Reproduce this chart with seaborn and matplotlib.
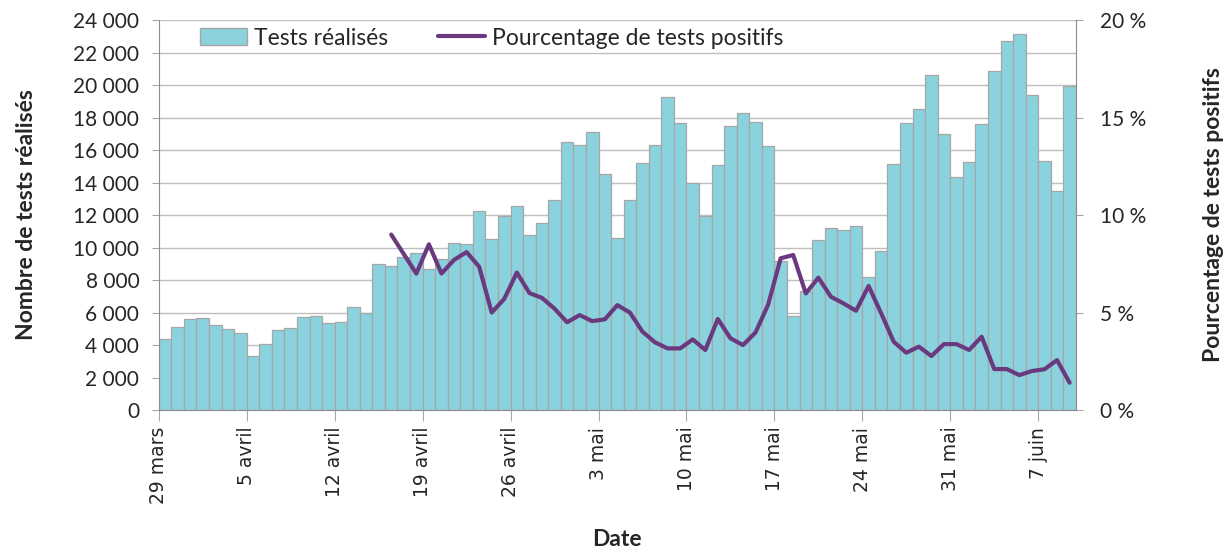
import pandas as pd
import numpy as np
import seaborn as sns
import matplotlib.pyplot as plt
from matplotlib.patches import Patch
from matplotlib.lines import Line2D
from matplotlib.ticker import FuncFormatter

# daily values, 29 mars -> 9 juin
dates = pd.date_range("2020-03-29", "2020-06-09", freq="D")

tests = [4400, 5100, 5600, 5650, 5250, 5000, 4750, 3350, 4050, 4950,
         5050, 5750, 5800, 5350, 5400, 6350, 5950, 9000, 8850, 9400,
         9650, 8700, 9300, 10300, 10200, 12250, 10500, 11950, 12550, 10800,
         11500, 12900, 16500, 16300, 17100, 14550, 10600, 12950, 15200, 16300,
         19250, 17650, 13950, 11950, 15100, 17450, 18300, 17750, 16250, 9150,
         5800, 7300, 10450, 11200, 11050, 11350, 8200, 9800, 15150, 17650,
         18550, 20600, 17000, 14350, 15250, 17600, 20850, 22700, 23150, 19400,
         15350, 13500, 19950]

# percentage of positive tests, starts on 16 avril
pct = [np.nan] * 18 + [
    9.0, 8.0, 7.0, 8.5, 7.0, 7.7, 8.1, 7.35, 5.0, 5.7,
    7.05, 6.0, 5.75, 5.2, 4.5, 4.87, 4.56, 4.65, 5.38, 5.0,
    4.02, 3.47, 3.16, 3.16, 3.62, 3.08, 4.67, 3.68, 3.33, 3.98,
    5.4, 7.78, 7.95, 5.98, 6.79, 5.81, 5.47, 5.09, 6.36, 4.96,
    3.5, 2.94, 3.25, 2.77, 3.38, 3.38, 3.08, 3.76, 2.1, 2.1,
    1.79, 2.0, 2.09, 2.56, 1.4]

mois = {3: "mars", 4: "avril", 5: "mai", 6: "juin"}
labels = [f"{d.day} {mois[d.month]}" for d in dates]

df = pd.DataFrame({"jour": labels, "tests": tests, "pct": pct,
                   "pos": np.arange(len(labels))})

bar_color = "#8AD3DE"
line_color = "#6B3A7E"
grey = "#A6A6A6"

sns.set_style("white")
plt.rcParams["font.family"] = ["Lato", "DejaVu Sans"]

fig = plt.figure(figsize=(12.31, 5.5), dpi=100)
ax = fig.add_axes([0.129, 0.2545, 0.745, 0.709])

sns.barplot(data=df, x="jour", y="tests", order=labels, color=bar_color,
            saturation=1, width=1.0, edgecolor=grey, linewidth=0.9, ax=ax,
            zorder=2)

ax.set_ylim(0, 24000)
ax.set_yticks(np.arange(0, 24001, 2000))
ax.yaxis.set_major_formatter(FuncFormatter(lambda v, p: f"{v:,.0f}".replace(",", " ")))
ax.grid(axis="y", color="#BFBFBF", linewidth=1.0, zorder=0)
ax.set_axisbelow(True)
ax.set_xlim(-0.5, len(labels) - 0.5)

tick_pos = np.arange(0, len(labels), 7)
ax.set_xticks(tick_pos - 0.5)
ax.set_xticklabels([labels[i] for i in tick_pos], rotation=90,
                   family="DejaVu Sans", fontsize=13.5)
ax.tick_params(axis="y", labelsize=15, length=5, color=grey, left=True, pad=9)
ax.tick_params(axis="x", length=8, color=grey, bottom=True, pad=4)

for side in ["top", "right"]:
    ax.spines[side].set_visible(False)
for side in ["left", "bottom"]:
    ax.spines[side].set_color("#8C8C8C")

ax.set_ylabel("Nombre de tests réalisés", fontsize=16.5, fontweight="bold", labelpad=26)
ax.set_xlabel("Date", fontsize=16.5, fontweight="bold", labelpad=18)

ax2 = ax.twinx()
sns.lineplot(data=df, x="pos", y="pct", color=line_color, linewidth=3.0, ax=ax2)
ax2.set_ylim(0, 20)
ax2.set_yticks([0, 5, 10, 15, 20])
ax2.yaxis.set_major_formatter(FuncFormatter(lambda v, p: f"{v:.0f} %"))
ax2.tick_params(axis="y", labelsize=15, length=5, color=grey, right=True, pad=12)
ax2.set_ylabel("Pourcentage de tests positifs", fontsize=16.5, fontweight="bold",
               labelpad=41)
ax2.set_xlim(-0.5, len(labels) - 0.5)
for side in ["top", "left", "bottom"]:
    ax2.spines[side].set_visible(False)
ax2.spines["right"].set_color("#8C8C8C")

handles = [Patch(facecolor=bar_color, edgecolor=grey, label="Tests réalisés"),
           Line2D([], [], color=line_color, linewidth=3.0,
                  label="Pourcentage de tests positifs")]
ax2.legend(handles=handles, loc="center left", bbox_to_anchor=(0.045, 0.954),
           ncol=2, frameon=False, fontsize=16.5, handlelength=2.05,
           handletextpad=0.3, columnspacing=2.2, borderaxespad=0,
           borderpad=0)

fig.savefig("out.png", dpi=100)
